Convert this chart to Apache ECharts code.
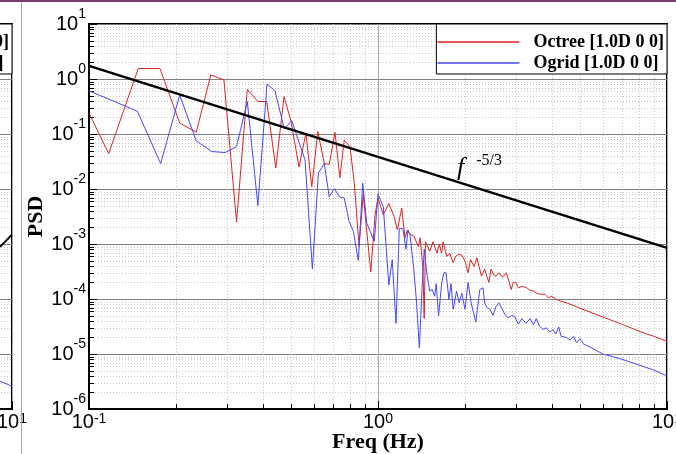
<!DOCTYPE html>
<html>
<head>
<meta charset="utf-8">
<script src="https://cdn.jsdelivr.net/npm/echarts@6/dist/echarts.min.js"></script>
<style>
  html, body { margin: 0; padding: 0; background: #fff; }
  #main { width: 676px; height: 454px; }
</style>
</head>
<body>
<div id="main"></div>
<script>
// [freq (Hz), PSD]
var octree = [
  [0.100, 0.24], [0.117, 0.044], [0.148, 1.55], [0.176, 1.55], [0.206, 0.158], [0.235, 0.108],
  [0.264, 1.19], [0.293, 0.96], [0.324, 0.0025], [0.353, 0.65], [0.384, 0.39], [0.412, 0.39],
  [0.443, 0.024], [0.473, 0.48], [0.500, 0.17], [0.533, 0.025], [0.563, 0.104], [0.590, 0.011],
  [0.619, 0.111], [0.652, 0.029], [0.678, 0.028], [0.710, 0.107], [0.738, 0.016], [0.764, 0.077],
  [0.800, 0.059], [0.828, 0.0128], [0.860, 0.00091], [0.889, 0.0079], [0.944, 0.00031], [0.977, 0.0034],
  [1.00, 0.0069], [1.043, 0.0034], [1.09, 0.0054], [1.136, 0.0032], [1.167, 0.0018], [1.208, 0.0045],
  [1.24, 0.0013], [1.263, 0.0018], [1.29, 0.0015], [1.33, 0.0014], [1.38, 0.00089], [1.40, 0.0013],
  [1.43, 0.00035], [1.445, 0.000044], [1.46, 0.0011], [1.51, 0.00074], [1.55, 0.0011], [1.60, 0.00068],
  [1.63, 0.0010], [1.66, 0.00068], [1.68, 0.0011], [1.73, 0.00059], [1.77, 0.00068], [1.82, 0.00046],
  [1.86, 0.00060], [1.90, 0.00065], [1.95, 0.00063], [2.00, 0.00049], [2.05, 0.00030], [2.09, 0.00052],
  [2.15, 0.00039], [2.20, 0.00056], [2.28, 0.00026], [2.34, 0.00035], [2.38, 0.00026], [2.42, 0.00020],
  [2.46, 0.00035], [2.51, 0.00028], [2.56, 0.00026], [2.62, 0.00030], [2.70, 0.00025], [2.78, 0.00030],
  [2.85, 0.000195], [2.89, 0.000148], [2.94, 0.00020], [3.00, 0.00020], [3.06, 0.00016], [3.16, 0.00017],
  [3.27, 0.00016], [3.36, 0.000144], [3.45, 0.00014], [3.55, 0.000126], [3.65, 0.000122], [3.78, 0.000122],
  [3.88, 0.000105], [3.99, 0.000112], [4.12, 0.00010], [4.27, 0.000092], [4.49, 0.000085], [4.75, 0.000076],
  [4.99, 0.000068], [5.5, 0.000056], [6.2, 0.000044], [7.06, 0.000034], [8.0, 0.000026], [9.0, 0.000021],
  [10, 0.000017]
];
var ogrid = [
  [0.100, 0.61], [0.147, 0.26], [0.177, 0.029], [0.206, 0.51], [0.235, 0.075], [0.266, 0.048],
  [0.296, 0.046], [0.324, 0.059], [0.353, 0.39], [0.384, 0.005], [0.413, 0.81], [0.440, 0.61],
  [0.474, 0.124], [0.503, 0.174], [0.559, 0.034], [0.593, 0.00035], [0.622, 0.0195], [0.652, 0.029],
  [0.678, 0.0072], [0.706, 0.0102], [0.735, 0.0072], [0.764, 0.0069], [0.794, 0.0026], [0.822, 0.0017],
  [0.855, 0.0005], [0.885, 0.0128], [0.914, 0.0024], [0.971, 0.00112], [1.00, 0.0080], [1.043, 0.0048],
  [1.09, 0.00018], [1.12, 0.00052], [1.154, 0.000036], [1.185, 0.0019], [1.22, 0.0019], [1.25, 0.00081],
  [1.27, 0.0018], [1.29, 0.0015], [1.33, 0.00035], [1.36, 0.000085], [1.39, 0.000013], [1.42, 0.000148],
  [1.445, 0.0008], [1.48, 0.00026], [1.51, 0.000139], [1.54, 0.00015], [1.57, 0.000112], [1.59, 0.00019],
  [1.62, 0.000049], [1.66, 0.00019], [1.69, 0.0003], [1.72, 0.0003], [1.76, 0.000098], [1.79, 0.00019],
  [1.82, 0.000065], [1.87, 0.000139], [1.91, 0.000085], [1.95, 0.000126], [2.00, 0.000065], [2.05, 0.0002],
  [2.10, 0.000085], [2.18, 0.000038], [2.25, 0.000148], [2.31, 0.00016], [2.34, 0.000085], [2.38, 0.00007],
  [2.44, 0.000065], [2.50, 0.00005], [2.56, 0.000073], [2.62, 0.000085], [2.68, 0.000068], [2.75, 0.000052],
  [2.82, 0.000046], [2.90, 0.00005], [2.97, 0.000048], [3.06, 0.000035], [3.15, 0.000044], [3.25, 0.000036],
  [3.36, 0.000044], [3.45, 0.000034], [3.53, 0.000044], [3.62, 0.000032], [3.72, 0.000028], [3.82, 0.00003],
  [3.94, 0.000025], [4.03, 0.000028], [4.12, 0.000023], [4.22, 0.000031], [4.30, 0.000021], [4.49, 0.00002],
  [4.62, 0.000018], [4.75, 0.000021], [4.86, 0.000016], [5.0, 0.000019], [5.15, 0.000015], [5.4, 0.0000135],
  [6.0, 0.00001], [6.9, 0.0000082], [7.87, 0.0000065], [9.0, 0.0000051], [10, 0.000004]
];
// f^-5/3 reference line, end points
var slopeLine = [[0.1, 1.73], [10, 0.00085]];
// the bit of the neighbouring panel that shows on the left edge
var leftSlope = [[9.09, 0.00089], [10, 0.00148]];
var leftOgrid = [[9.09, 0.0000032], [10, 0.0000026]];

var names = ['Octree [1.0D 0 0]', 'Ogrid [1.0D 0 0]'];
var minorMult = [2, 3, 4, 5, 6, 7, 8, 9];
var xDecades = [0.1, 1];
var yDecades = [1e-6, 1e-5, 1e-4, 1e-3, 1e-2, 1e-1, 1];

var xMinor = [], yMinor = [];
xDecades.forEach(function (d) { minorMult.forEach(function (m) { xMinor.push([+(d * m).toPrecision(3), 1]); }); });
yDecades.forEach(function (d) { minorMult.forEach(function (m) { yMinor.push([1, +(d * m).toPrecision(3)]); }); });

function pow10Label(v) {
  var e = Math.round(Math.log(v) / Math.LN10);
  return '{b|10}{s|' + e + '}';
}
var labelRich = {
  b: { fontSize: 20, fontFamily: 'Liberation Sans', color: '#000', lineHeight: 34 },
  s: { fontSize: 14, fontFamily: 'Liberation Sans', color: '#000', verticalAlign: 'top' }
};
var xLabelRich = {
  b: { fontSize: 20, fontFamily: 'Liberation Sans', color: '#000', lineHeight: 21 },
  s: { fontSize: 14, fontFamily: 'Liberation Sans', color: '#000', verticalAlign: 'top' }
};

function crisp(v) { return Math.round(v) + 0.5; }

function renderMinorX(params, api) {
  var cs = params.coordSys;
  var x = crisp(api.coord([api.value(0), 1])[0]);
  var bottom = cs.y + cs.height;
  return { type: 'group', children: [
    { type: 'line', shape: { x1: x, y1: cs.y, x2: x, y2: bottom }, style: { stroke: '#c8c8c8', lineWidth: 1, lineDash: [1, 2] } },
    { type: 'line', shape: { x1: x, y1: bottom, x2: x, y2: bottom - 5 }, style: { stroke: '#000', lineWidth: 1 } }
  ] };
}
function renderMinorY(params, api) {
  var cs = params.coordSys;
  var y = crisp(api.coord([1, api.value(1)])[1]);
  return { type: 'group', children: [
    { type: 'line', shape: { x1: cs.x, y1: y, x2: cs.x + cs.width, y2: y }, style: { stroke: '#c8c8c8', lineWidth: 1, lineDash: [1, 2] } },
    { type: 'line', shape: { x1: cs.x, y1: y, x2: cs.x + 5, y2: y }, style: { stroke: '#000', lineWidth: 1 } }
  ] };
}

function xAxisOf(gi) {
  return {
    type: 'log', logBase: 10, min: 0.1, max: 10, gridIndex: gi,
    name: gi === 0 ? 'Freq (Hz)' : '', nameLocation: 'middle', nameGap: 22, nameMoveOverlap: false,
    nameTextStyle: { fontFamily: 'Liberation Serif', fontWeight: 'bold', fontSize: 22, color: '#000' },
    axisLine: { show: true, lineStyle: { color: '#000', width: 2 } },
    axisTick: { show: true, inside: true, length: 8, lineStyle: { color: '#000', width: 1 } },
    axisLabel: { formatter: pow10Label, rich: xLabelRich, margin: 3, showMinLabel: true, showMaxLabel: true },
    splitLine: { show: true, lineStyle: { color: '#aaa', width: 1 } },
    minorTick: { show: false }
  };
}
function yAxisOf(gi) {
  return {
    type: 'log', logBase: 10, min: 1e-6, max: 10, gridIndex: gi,
    name: gi === 0 ? 'PSD' : '', nameLocation: 'middle', nameGap: 42, nameMoveOverlap: false,
    nameTextStyle: { fontFamily: 'Liberation Serif', fontWeight: 'bold', fontSize: 22, color: '#000' },
    axisLine: { show: true, lineStyle: { color: '#000', width: 2 } },
    axisTick: { show: true, inside: true, length: 8, lineStyle: { color: '#000', width: 1 } },
    axisLabel: { show: gi === 0, formatter: pow10Label, rich: labelRich, margin: 3, showMinLabel: true, showMaxLabel: true },
    splitLine: { show: true, lineStyle: { color: '#808080', width: 1 } }
  };
}

var legendBase = {
  orient: 'vertical', top: 24, icon: 'rect', itemWidth: 82, itemHeight: 1.5, itemGap: 3,
  padding: [9, 3, 2, 1], borderColor: '#000', borderWidth: 1, backgroundColor: '#fff',
  formatter: function (name) { return '{t|' + name + '}'; },
  textStyle: {
    fontFamily: 'Liberation Serif', fontWeight: 'bold', fontSize: 18, color: '#000',
    rich: { t: { fontFamily: 'Liberation Serif', fontWeight: 'bold', fontSize: 18, color: '#000', padding: [0, 0, 0, 9], lineHeight: 18 } }
  },
  data: names
};

var chart = echarts.init(document.getElementById('main'));
chart.setOption({
  animation: false,
  backgroundColor: '#fff',
  grid: [
    { left: 89, right: 9, top: 24, bottom: 45, show: true, borderColor: '#000', borderWidth: 2, outerBoundsMode: 'none', containLabel: false },
    { left: -566, width: 578, top: 24, bottom: 45, show: true, borderColor: '#000', borderWidth: 2, outerBoundsMode: 'none', containLabel: false }
  ],
  xAxis: [xAxisOf(0), xAxisOf(1)],
  yAxis: [yAxisOf(0), yAxisOf(1)],
  legend: [
    Object.assign({ right: 9 }, legendBase),
    Object.assign({ right: 664 }, legendBase)
  ],
  series: [
    { type: 'custom', xAxisIndex: 0, yAxisIndex: 0, renderItem: renderMinorX, data: xMinor, silent: true, z: 1 },
    { type: 'custom', xAxisIndex: 0, yAxisIndex: 0, renderItem: renderMinorY, data: yMinor, silent: true, z: 1 },
    { type: 'custom', xAxisIndex: 1, yAxisIndex: 1, renderItem: renderMinorX, data: xMinor, silent: true, z: 1 },
    { type: 'custom', xAxisIndex: 1, yAxisIndex: 1, renderItem: renderMinorY, data: yMinor, silent: true, z: 1 },
    { name: names[0], type: 'line', data: octree, showSymbol: false, color: '#e02222',
      lineStyle: { width: 1, color: '#e02222' }, z: 3 },
    { name: names[1], type: 'line', data: ogrid, showSymbol: false, color: '#4646ff',
      lineStyle: { width: 1, color: '#4646ff' }, z: 4 },
    { type: 'line', data: slopeLine, showSymbol: false, lineStyle: { width: 2.5, color: '#000' }, z: 5 },
    { name: names[1], type: 'line', xAxisIndex: 1, yAxisIndex: 1, data: leftOgrid, showSymbol: false,
      lineStyle: { width: 1, color: '#4646ff' }, z: 4 },
    { type: 'line', xAxisIndex: 1, yAxisIndex: 1, data: leftSlope, showSymbol: false,
      lineStyle: { width: 2, color: '#000' }, z: 5 }
  ],
  graphic: [
    { type: 'rect', left: 0, top: 0, shape: { width: 676, height: 2 }, style: { fill: '#7a3a6c' }, z: 100 },
    { type: 'line', shape: { x1: 21.5, y1: 2, x2: 21.5, y2: 454 }, style: { stroke: '#a8a8a8', lineWidth: 1 }, z: 100 },
    { type: 'text', left: 457, top: 153, z: 100,
      style: { text: '{f|f}{s|-5/3}', rich: {
        f: { fontFamily: 'Liberation Serif', fontStyle: 'italic', fontSize: 26, fill: '#000', lineHeight: 30 },
        s: { fontFamily: 'Liberation Serif', fontSize: 16, fill: '#000', verticalAlign: 'top', padding: [0, 0, 0, 12] }
      } } }
  ]
});
</script>
</body>
</html>
